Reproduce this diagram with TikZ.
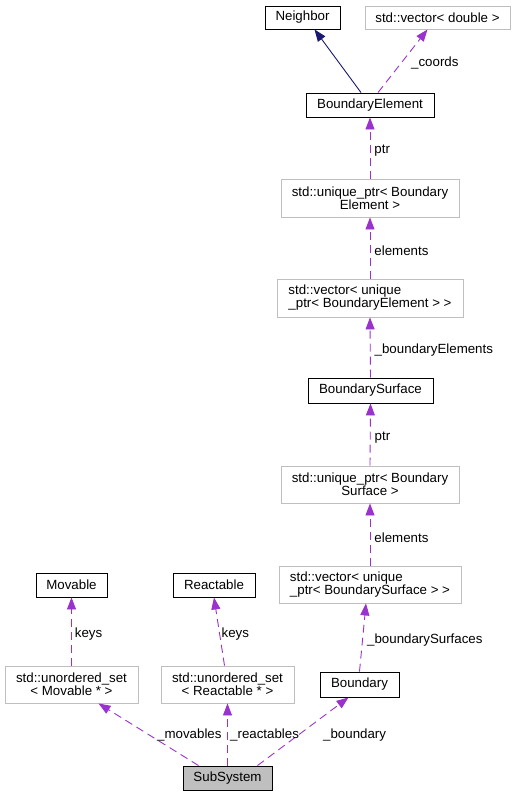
\documentclass[tikz,border=0pt]{standalone}
\usepackage{fontspec}
\setmainfont{Liberation Sans}
\usetikzlibrary{arrows.meta}
\definecolor{dep}{HTML}{9A32CD}
\definecolor{inh}{HTML}{191970}
\definecolor{gborder}{HTML}{BFBFBF}
\definecolor{subfill}{HTML}{BFBFBF}
\tikzset{
  cls/.style={draw=black, line width=0.9pt, inner sep=1pt, align=center, font=\fontsize{13.3}{13}\selectfont},
  ext/.style={draw=gborder, line width=0.9pt, inner sep=1pt, font=\fontsize{13.3}{13}\selectfont},
  sz/.style 2 args={minimum width=#1pt, minimum height=#2pt},
  depedge/.style={draw=dep, line width=0.9pt, dash pattern=on 8pt off 5pt, -{Triangle[length=12pt,width=9pt]}},
  inhedge/.style={draw=inh, line width=0.9pt, -{Triangle[length=12pt,width=9pt]}},
  lbl/.style={anchor=west, inner sep=0pt, font=\fontsize{13.3}{13}\selectfont},
  mlbl/.style={lbl, yshift=-3pt},
}
\begin{document}
\begin{tikzpicture}[x=1pt,y=-1pt]
\useasboundingbox (0,0) rectangle (517,796);
% nodes
\node[cls, sz={75}{23}] (nb) at (302.5,17.5) {Neighbor};
\node[ext, sz={145}{23}, align=center] (vecD) at (437.5,17.5) {std::vector\textless{} double \textgreater};
\node[cls, sz={128}{24}] (BE) at (370,105) {BoundaryElement};
\node[ext, sz={178}{38}, align=center] (uBE) at (370,198) {std::unique\_ptr\textless{} Boundary\\Element \textgreater};
\node[ext, sz={186}{38}, align=left] (vecBE) at (370,298) {std::vector\textless{} unique\\\_ptr\textless{} BoundaryElement \textgreater{} \textgreater};
\node[cls, sz={125}{25}] (BS) at (370.5,390.5) {BoundarySurface};
\node[ext, sz={178}{37}, align=center] (uBS) at (370,484.5) {std::unique\_ptr\textless{} Boundary\\Surface \textgreater};
\node[ext, sz={182}{37}, align=left] (vecBS) at (370,584.5) {std::vector\textless{} unique\\\_ptr\textless{} BoundarySurface \textgreater{} \textgreater};
\node[cls, sz={71}{24}] (M) at (71.5,585) {Movable};
\node[cls, sz={82}{24}] (R) at (214,585) {Reactable};
\node[ext, sz={133}{37}, align=center] (usM) at (71.5,684.5) {std::unordered\_set\\\textless{} Movable * \textgreater};
\node[ext, sz={133}{37}, align=center] (usR) at (227.5,684.5) {std::unordered\_set\\\textless{} Reactable * \textgreater};
\node[cls, sz={79}{25}] (bnd) at (359.5,684.5) {Boundary};
\node[cls, sz={89}{24}, fill=subfill] (sub) at (227.5,778) {SubSystem};
% edges
\draw[inhedge] ([xshift=-9pt]BE.north) -- ([xshift=12pt]nb.south);
\draw[depedge] ([xshift=8pt]BE.north) -- node[lbl, pos=0.5, xshift=8pt, yshift=-2pt] (lc) {\_coords} ([xshift=-10pt]vecD.south);
\draw[depedge] (uBE.north) -- node[mlbl, xshift=4pt] (l1) {ptr} (BE.south);
\draw[depedge] (vecBE.north) -- node[mlbl, xshift=4pt] (l2) {elements} (uBE.south);
\draw[depedge] (BS.north) -- node[mlbl, xshift=4pt] (l3) {\_boundaryElements} (vecBE.south);
\draw[depedge] (uBS.north) -- node[mlbl, xshift=4pt] (l4) {ptr} (BS.south);
\draw[depedge] (vecBS.north) -- node[mlbl, xshift=4pt] (l5) {elements} (uBS.south);
\draw[depedge] (bnd.north) -- node[mlbl, xshift=4pt] (l6) {\_boundarySurfaces} ([xshift=-4pt]vecBS.south);
\draw[depedge] (usM.north) -- node[mlbl, xshift=3pt] (l7) {keys} (M.south);
\draw[depedge] ([xshift=-3pt]usR.north) -- node[mlbl, xshift=2pt] (l8) {keys} (R.south);
\draw[depedge] ([xshift=-29pt]sub.north) -- ([xshift=27pt]usM.south);
\draw[depedge] (sub.north) -- (usR.south);
\draw[depedge] ([xshift=30pt]sub.north) -- ([xshift=-11pt]bnd.south);
\node[lbl] (lm) at (157,735) {\_movables};
\node[lbl] (lr) at (230,735) {\_reactables};
\node[lbl] (lb) at (323,735) {\_boundary};
\end{tikzpicture}
\end{document}
